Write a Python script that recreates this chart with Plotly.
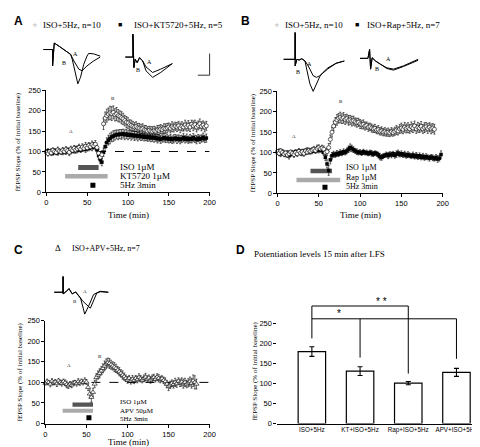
import numpy as np
import plotly.graph_objects as go

W, H = 480, 447
SERIF = "Liberation Serif, Times New Roman, serif"
SANS = "Liberation Sans, Arial, sans-serif"

# ---------------- time-course data (2-min bins) ----------------
a_iso_vals = [98, 95, 100, 97, 103, 100, 98, 104, 101, 99, 103,
              100, 105, 102, 98, 106, 103, 108, 104, 107, 110,
              106, 111, 108, 113, 109, 115, 112, 117, 114, 118,
              110, 96, 86, 92,
              168, 182, 188, 192, 195, 193, 196, 190, 192, 188, 186, 183, 180, 176, 172,
              170, 166, 164, 162, 160, 161, 158, 157, 155, 156, 153, 152, 150, 152, 150, 149,
              151, 150, 153, 152, 155, 154, 157, 156, 158, 160, 157, 161, 159, 162, 160,
              163, 158, 162, 160, 165, 161, 164, 160, 167, 163, 166, 160, 164, 168, 162, 165, 160, 163]
a_iso_err = [5, 6, 5, 7, 6, 5, 6, 7, 5, 6, 7, 6, 7, 6, 8, 7, 6, 7, 8, 7, 8,
             7, 8, 7, 9, 8, 7, 8, 9, 8, 9,
             8, 10, 12, 10,
             14, 15, 16, 15, 16, 17, 16, 15, 16, 15, 14, 15, 14, 13, 14,
             13, 12, 13, 12, 11, 12, 11, 12, 11, 12, 11, 12, 11, 10, 11, 12,
             11, 10, 11, 12, 11, 10, 11, 12, 11, 10, 11, 12, 11, 10, 11,
             11, 12, 11, 10, 12, 11, 12, 11, 10, 12, 11, 12, 11, 12, 11, 10, 12, 11]
a_kt_vals = [100, 102, 98, 101, 96, 103, 99, 97, 102, 100, 98,
             103, 99, 104, 101, 100, 105, 102, 106, 103, 108,
             104, 107, 110, 106, 111, 108, 113, 110, 115, 112,
             104, 90, 80, 74,
             98, 112, 122, 128, 132, 136, 138, 140, 142, 141, 143, 142, 144, 141, 143,
             140, 142, 139, 141, 138, 140, 137, 139, 136, 138, 135, 137, 134, 136, 133, 135,
             133, 134, 131, 133, 130, 132, 134, 131, 133, 130, 132, 129, 131, 133, 130,
             132, 129, 131, 134, 130, 133, 129, 132, 130, 134, 131, 129, 133, 130, 132, 135, 131, 133]
a_kt_err = [4, 5, 4, 6, 5, 4, 5, 6, 4, 5, 6, 5, 6, 5, 7, 6, 5, 6, 7, 6, 7,
            6, 7, 6, 8, 7, 6, 7, 8, 7, 8,
            8, 9, 10, 9,
            10, 11, 12, 12, 13, 12, 13, 12, 11, 12, 11, 12, 11, 12, 11,
            11, 10, 11, 10, 11, 10, 11, 10, 9, 10, 9, 10, 9, 10, 9, 10,
            10, 9, 10, 9, 10, 9, 10, 9, 10, 9, 10, 9, 10, 9, 10,
            9, 10, 9, 10, 9, 10, 9, 10, 9, 10, 9, 10, 9, 10, 9, 10, 9, 10]

b_iso_vals = [102, 98, 104, 100, 96, 99, 94, 97, 101, 98, 95,
              100, 97, 103, 99, 102, 98, 104, 101, 105, 103,
              106, 108, 105, 110, 112, 109, 111, 108,
              100, 102, 112, 132, 150, 165,
              174, 180, 184, 186, 183, 185, 181, 183, 179, 180, 177, 178, 175, 173, 174,
              170, 168, 169, 165, 166, 162, 163, 160, 158, 159, 155, 156, 152, 153, 150, 151,
              149, 150, 148, 151, 149, 152, 155, 153, 158, 160, 157, 162, 159, 161, 158,
              163, 160, 165, 158, 162, 160, 164, 158, 161, 163, 159, 162, 158, 160, 157]
b_iso_err = [5, 6, 5, 7, 6, 5, 6, 7, 5, 6, 7, 6, 7, 6, 5, 6, 7, 6, 5, 6, 7,
             6, 7, 6, 8, 7, 6, 7, 8,
             8, 9, 10, 11, 12, 12,
             12, 13, 12, 13, 12, 13, 12, 11, 12, 11, 12, 11, 10, 11, 10,
             11, 10, 11, 10, 9, 10, 9, 10, 9, 10, 9, 10, 9, 10, 9, 10,
             9, 10, 9, 10, 9, 10, 11, 10, 11, 12, 11, 12, 11, 12, 11,
             12, 11, 12, 11, 12, 11, 12, 11, 12, 11, 12, 11, 12, 11, 12]
b_rap_vals = [100, 103, 97, 101, 99, 95, 98, 92, 96, 100, 97,
              102, 99, 104, 100, 98, 103, 100, 105, 102, 104,
              103, 106, 104, 108, 105, 107, 104, 100,
              88, 72, 56, 82, 92, 96,
              94, 98, 96, 100, 98, 102, 100, 104, 108, 112, 110, 107, 104, 102, 100,
              101, 98, 102, 99, 100, 97, 100, 98, 96, 99, 97, 94, 90, 88, 91, 93,
              95, 92, 96, 94, 97, 93, 96, 99, 95, 97, 94, 96, 92, 95, 93,
              91, 94, 90, 93, 89, 92, 88, 91, 87, 90, 88, 86, 89, 87, 85, 88, 84, 86, 95]
b_rap_err = [5, 6, 7, 6, 5, 6, 7, 8, 6, 5, 6, 5, 6, 5, 7, 6, 5, 6, 7, 6, 5,
             6, 5, 6, 7, 6, 5, 6, 7,
             8, 10, 12, 10, 8, 7,
             6, 7, 6, 7, 6, 7, 6, 7, 8, 9, 8, 7, 6, 7, 6,
             6, 5, 6, 5, 6, 5, 6, 7, 6, 5, 6, 7, 8, 7, 6, 5,
             6, 7, 6, 7, 6, 7, 8, 7, 6, 7, 6, 7, 6, 7, 6,
             6, 7, 6, 7, 6, 7, 6, 7, 6, 7, 6, 7, 6, 7, 6, 7, 8, 7, 9]

c_apv_vals = [98, 102, 100, 96, 103, 99, 101, 97, 104, 100, 98,
              102, 99, 95, 92, 96, 94, 98, 100, 97, 102,
              99, 103, 100, 104, 101,
              88, 72, 64, 76, 96,
              112, 118, 122, 128, 134, 140, 145, 148, 146, 143, 140, 137, 134, 130, 126, 122, 118, 114, 110,
              106, 110, 104, 108, 105, 110, 107, 112, 109, 106, 110, 113, 108, 111, 106, 109, 112, 108, 113, 110, 107, 109, 105, 102,
              96, 90, 94, 98, 95, 100, 97, 103, 99, 101, 97, 100, 96, 99, 102, 98, 104, 100, 96]
c_apv_err = [5, 6, 5, 7, 6, 5, 6, 7, 5, 6, 7, 6, 7, 8, 7, 6, 7, 6, 5, 6, 7,
             6, 5, 6, 7, 6,
             8, 10, 12, 10, 9,
             9, 10, 11, 10, 11, 12, 12, 11, 12, 11, 10, 11, 10, 9, 10, 9, 10, 9, 8,
             8, 7, 8, 9, 8, 7, 8, 9, 8, 7, 8, 9, 8, 7, 8, 9, 8, 7, 8, 9, 8, 7, 8, 9,
             9, 10, 9, 8, 9, 10, 9, 8, 9, 10, 11, 10, 9, 10, 11, 12, 14, 16, 12]

BIN = 2  # min per bin
def times(vals):
    return np.arange(len(vals)) * BIN

# ---------------- bar chart data (panel D) ----------------
d_groups = ["ISO+5Hz", "KT+ISO+5Hz", "Rap+ISO+5Hz", "APV+ISO+5Hz"]
d_means = [180, 131, 101, 128]
d_sems = [12, 11, 4, 10]
sig_brackets = [(0, 2, 294), (0, 3, 262)]
sig_drop_bottom = [213, 165, 125, 162]
sig_drop_top = [294, 262, 294, 262]

# ---------------- drug application periods ----------------
a_drugs = [(39, 64, 55, 67, "#555555"), (23, 75, 34, 45, "#aaaaaa")]
b_drugs = [(40, 66, 49, 60, "#555555"), (23, 76, 27, 38, "#aaaaaa")]
c_drugs = [(33, 58, 41, 51, "#555555"), (21, 58, 26, 36, "#aaaaaa")]
a_stim = (57, 17.5)
b_stim = (57.5, 14.5)
c_stim = (53, 14)

# ---------------- example fEPSP traces (ms, mV) ----------------
wA1_pre_t = [0.2, 2.06, 2.06, 2.4, 3.4, 4.74, 5.74]
wA1_pre_v = [0, 0, -0.835, 0.33, 0.165, -0.085, -0.25]
wA1_B_t = [6.06, 6.74, 7.2, 7.74, 8.4, 9.06, 9.4, 10.4, 11.74]
wA1_B_v = [-0.5, -1.25, -1.75, -1.42, -0.75, -0.335, -0.2, -0.22, -0.335]
wA1_A_t = [6.4, 7.4, 8.06, 9.06, 10.4, 11.74]
wA1_A_v = [-0.585, -1.0, -1.085, -0.835, -0.585, -0.385]

wA2_pre_t = [0, 1.54, 1.54, 1.74, 2.0, 2.4, 2.88, 3.54]
wA2_pre_v = [0, 0, 1.165, -0.535, -0.115, -0.285, -0.035, -0.2]
wA2_B_t = [4.2, 5.54, 7.2, 9.54]
wA2_B_v = [-0.7, -1.035, -0.785, -0.335]
wA2_A_t = [4.2, 5.54, 7.2, 9.54]
wA2_A_v = [-0.5, -0.785, -0.615, -0.335]

wB1_pre_t = [0, 2.34, 2.34, 2.34, 2.68, 3.14, 3.68, 4.34]
wB1_pre_v = [0, 0, 1.365, -0.335, 0, -0.035, 0.03, -0.085]
wB1_B_t = [4.68, 5.34, 6.0, 6.68, 7.34, 7.94, 9.0, 10.68, 12.34]
wB1_B_v = [-0.5, -1.25, -1.635, -1.235, -0.885, -0.685, -0.435, -0.2, -0.085]
wB1_A_t = [5.0, 6.0, 6.68, 7.34, 9.0, 10.68, 12.34]
wB1_A_v = [-0.335, -0.835, -0.92, -0.835, -0.485, -0.2, -0.085]

wB2_pre_t = [0, 1.6, 1.94, 2.14, 2.46, 3.14, 4.14]
wB2_pre_v = [0, 0, 0.45, -0.55, 0.03, -0.135, -0.3]
wB2_B_t = [5.46, 6.8, 8.8, 11.8]
wB2_B_v = [-0.52, -0.6, -0.42, -0.1]
wB2_A_t = [5.46, 6.8, 8.8, 11.8]
wB2_A_v = [-0.485, -0.55, -0.385, -0.05]

wC_pre_t = [0, 1.8, 1.8, 1.8, 2.34, 3.0, 3.66, 4.34]
wC_pre_v = [0, 0, 0.8, -0.085, 0.015, 0.185, -0.085, 0.015]
wC_B_t = [5.34, 6.2, 7.0, 8.0, 9.34, 11.0]
wC_B_v = [-0.285, -1.115, -0.7, -0.115, 0.05, 0]
wC_A_t = [5.8, 7.34, 8.66, 9.4, 11.0]
wC_A_v = [-0.45, -0.815, -0.035, 0.025, 0]

# ---------------- layout helpers ----------------
def PX(p):
    return p / W

def PY(p):
    return 1 - p / H

def xdom(l, r):
    return [PX(l), PX(r)]

def ydom(t, b):
    return [PY(b), PY(t)]

fig = go.Figure()

def add_series(t, v, e, xa, ya, sym, fill, size, lw):
    fig.add_trace(go.Scatter(
        x=t, y=v, mode="markers", xaxis=xa, yaxis=ya, cliponaxis=False,
        marker=dict(symbol=sym, size=size, color=fill, line=dict(color="black", width=lw)),
        error_y=dict(type="data", array=e, color="black", thickness=0.6, width=1),
        showlegend=False, hoverinfo="skip"))

add_series(times(a_kt_vals), a_kt_vals, a_kt_err, "x", "y", "square", "black", 3.5, 0)
add_series(times(a_iso_vals), a_iso_vals, a_iso_err, "x", "y", "circle", "white", 4, 0.6)
add_series(times(b_rap_vals), b_rap_vals, b_rap_err, "x2", "y2", "square", "black", 3.5, 0)
add_series(times(b_iso_vals), b_iso_vals, b_iso_err, "x2", "y2", "circle", "white", 4, 0.6)
add_series(times(c_apv_vals), c_apv_vals, c_apv_err, "x3", "y3", "triangle-up", "white", 4.5, 0.6)

for (sx, sy), xa, ya in [(a_stim, "x", "y"), (b_stim, "x2", "y2"), (c_stim, "x3", "y3")]:
    fig.add_trace(go.Scatter(x=[sx], y=[sy], mode="markers", xaxis=xa, yaxis=ya,
                             marker=dict(symbol="square", size=5, color="black"),
                             showlegend=False, hoverinfo="skip"))

fig.add_trace(go.Bar(
    x=d_groups, y=d_means, xaxis="x4", yaxis="y4", width=0.57,
    marker=dict(color="white", line=dict(color="black", width=1.2)),
    error_y=dict(type="data", array=d_sems, color="black", thickness=1.1, width=2.5),
    showlegend=False, hoverinfo="skip"))

D_XR = [-0.714, 3.53]
D_YR = [0, 320]
fig.add_trace(go.Scatter(x=[D_XR[0], D_XR[0]], y=[0, 250], mode="lines", xaxis="x4", yaxis="y4",
                         line=dict(color="black", width=1), cliponaxis=False,
                         showlegend=False, hoverinfo="skip"))
for i in range(len(d_groups)):
    fig.add_trace(go.Scatter(x=[d_groups[i], d_groups[i]], y=[sig_drop_top[i], sig_drop_bottom[i]],
                             mode="lines", xaxis="x4", yaxis="y4", line=dict(color="black", width=1),
                             showlegend=False, hoverinfo="skip"))
for g0, g1, h in sig_brackets:
    fig.add_trace(go.Scatter(x=[d_groups[g0], d_groups[g1]], y=[h, h],
                             mode="lines", xaxis="x4", yaxis="y4", line=dict(color="black", width=1),
                             showlegend=False, hoverinfo="skip"))

def add_wave(pre_t, pre_v, t, v, xa, ya):
    fig.add_trace(go.Scatter(x=pre_t + t, y=pre_v + v, mode="lines", xaxis=xa, yaxis=ya,
                             line=dict(color="black", width=1), cliponaxis=False,
                             showlegend=False, hoverinfo="skip"))

add_wave(wA1_pre_t, wA1_pre_v, wA1_A_t, wA1_A_v, "x5", "y5")
add_wave(wA1_pre_t, wA1_pre_v, wA1_B_t, wA1_B_v, "x5", "y5")
add_wave(wA2_pre_t, wA2_pre_v, wA2_A_t, wA2_A_v, "x6", "y6")
add_wave(wA2_pre_t, wA2_pre_v, wA2_B_t, wA2_B_v, "x6", "y6")
add_wave(wB1_pre_t, wB1_pre_v, wB1_A_t, wB1_A_v, "x7", "y7")
add_wave(wB1_pre_t, wB1_pre_v, wB1_B_t, wB1_B_v, "x7", "y7")
add_wave(wB2_pre_t, wB2_pre_v, wB2_A_t, wB2_A_v, "x8", "y8")
add_wave(wB2_pre_t, wB2_pre_v, wB2_B_t, wB2_B_v, "x8", "y8")
add_wave(wC_pre_t, wC_pre_v, wC_A_t, wC_A_v, "x9", "y9")
add_wave(wC_pre_t, wC_pre_v, wC_B_t, wC_B_v, "x9", "y9")

# ---------------- axes ----------------
tickfont = dict(family=SANS, size=7.5, color="black")
def main_x(dom, anchor):
    return dict(domain=dom, anchor=anchor, range=[0, 200], tickvals=[0, 50, 100, 150, 200],
                showline=True, linecolor="black", linewidth=1, ticks="outside", ticklen=3,
                tickwidth=1, tickcolor="black", showgrid=False, zeroline=False, tickfont=tickfont)
def main_y(dom, anchor):
    return dict(domain=dom, anchor=anchor, range=[0, 250], tickvals=[0, 50, 100, 150, 200, 250],
                showline=True, linecolor="black", linewidth=1, ticks="outside", ticklen=3,
                tickwidth=1, tickcolor="black", showgrid=False, zeroline=False, tickfont=tickfont)

KT, KV = 5.0, 20.0
def inset(l, r, t, b, x0, y0):
    xa = dict(domain=xdom(l, r), range=[(l - x0) / KT, (r - x0) / KT], visible=False)
    ya = dict(domain=ydom(t, b), range=[(y0 - b) / KV, (y0 - t) / KV], visible=False)
    return xa, ya

ins = [inset(30, 95, 28, 76, 33, 38.3),
       inset(112, 170, 18, 72, 117.3, 46),
       inset(274, 345, 17, 85, 278.3, 48.3),
       inset(352, 420, 30, 65, 356, 47.3),
       inset(40, 105, 265, 312, 45, 286)]

layout = dict(
    width=W, height=H, margin=dict(l=0, r=0, t=0, b=0),
    paper_bgcolor="white", plot_bgcolor="white", showlegend=False,
    xaxis=main_x(xdom(37, 203), "y"), yaxis=main_y(ydom(80, 184), "x"),
    xaxis2=main_x(xdom(272, 440), "y2"), yaxis2=main_y(ydom(81, 185), "x2"),
    xaxis3=main_x(xdom(36, 203), "y3"), yaxis3=main_y(ydom(315, 420), "x3"),
    xaxis4=dict(domain=xdom(272, 480), anchor="y4", range=D_XR, type="category",
                showline=True, linecolor="black", linewidth=1, ticks="", showgrid=False,
                zeroline=False, tickangle=0,
                tickfont=dict(family=SANS, size=6.3, color="black")),
    yaxis4=dict(domain=[PY(420), PY(420 - 320 * 102 / 250)], anchor="x4", range=D_YR,
                tickvals=[0, 50, 100, 150, 200, 250], showline=False, ticks="outside",
                ticklen=3, tickwidth=1, tickcolor="black", showgrid=False, zeroline=False,
                tickfont=tickfont),
)
for k, (xa, ya) in enumerate(ins, start=5):
    xa["anchor"] = "y%d" % k
    ya["anchor"] = "x%d" % k
    layout["xaxis%d" % k] = xa
    layout["yaxis%d" % k] = ya
fig.update_layout(**layout)

# ---------------- shapes ----------------
shapes = []
for drugs, xr, yr in [(a_drugs, "x", "y"), (b_drugs, "x2", "y2"), (c_drugs, "x3", "y3")]:
    for x0, x1, y0, y1, col in drugs:
        shapes.append(dict(type="rect", xref=xr, yref=yr, x0=x0, x1=x1, y0=y0, y1=y1,
                           fillcolor=col, line=dict(width=0), layer="below"))
shapes.append(dict(type="line", xref="x", yref="y", x0=62, x1=200, y0=100, y1=100,
                   line=dict(color="black", width=1, dash="dash"), layer="below"))
shapes.append(dict(type="line", xref="x3", yref="y3", x0=56, x1=200, y0=100, y1=100,
                   line=dict(color="black", width=1, dash="dash"), layer="below"))
shapes.append(dict(type="line", xref="paper", yref="paper", x0=PX(191), x1=PX(203),
                   y0=PY(64.5), y1=PY(64.5), line=dict(color="#333", width=1)))
shapes.append(dict(type="line", xref="paper", yref="paper", x0=PX(203), x1=PX(203),
                   y0=PY(64.5), y1=PY(42.5), line=dict(color="#333", width=1)))
fig.update_layout(shapes=shapes)

# ---------------- annotations ----------------
anns = []
def ann(text, x, y, xref="paper", yref="paper", size=9, family=SERIF, xanchor="left",
        yanchor="middle", angle=0, bold=False):
    if bold:
        text = "<b>%s</b>" % text
    anns.append(dict(text=text, x=x, y=y, xref=xref, yref=yref, showarrow=False,
                     xanchor=xanchor, yanchor=yanchor, textangle=angle,
                     font=dict(family=family, size=size, color="black")))

ann("A", PX(2), PY(9), size=12, family=SANS, bold=True)
ann("B", PX(233), PY(9), size=12, family=SANS, bold=True)
ann("C", PX(2), PY(243), size=12, family=SANS, bold=True)
ann("D", PX(228), PY(243), size=12, family=SANS, bold=True)

ann("○", PX(25), PY(13), size=6, family=SANS, xanchor="center")
ann("ISO+5Hz, n=10", PX(32), PY(13), size=9)
ann("■", PX(112), PY(13), size=7, family=SANS, xanchor="center")
ann("ISO+KT5720+5Hz, n=5", PX(124), PY(13), size=9)
ann("○", PX(272), PY(13), size=6, family=SANS, xanchor="center")
ann("ISO+5Hz, n=10", PX(278), PY(13), size=9)
ann("■", PX(353), PY(13), size=7, family=SANS, xanchor="center")
ann("ISO+Rap+5Hz, n=7", PX(361), PY(13), size=9)
ann("Δ", PX(49), PY(241), size=9, xanchor="center")
ann("ISO+APV+5Hz, n=7", PX(61), PY(241), size=8)
ann("Potentiation levels 15 min after LFS", PX(246), PY(247), size=9)

ylab = "fEPSP Slope (% of initial baseline)"
ann(ylab, PX(8), PY(132), size=7, xanchor="center", angle=-90)
ann(ylab, PX(247), PY(133), size=7, xanchor="center", angle=-90)
ann(ylab, PX(10), PY(367), size=7, xanchor="center", angle=-90)
ann(ylab, PX(249), PY(366), size=7, xanchor="center", angle=-90)
ann("Time (min)", PX(120), PY(207), size=9, xanchor="center")
ann("Time (min)", PX(356), PY(207), size=9, xanchor="center")
ann("Time (min)", PX(120), PY(439), size=9, xanchor="center")

ann("ISO 1µM", 88, 62, "x", "y", size=9)
ann("KT5720 1µM", 88, 39, "x", "y", size=9)
ann("5Hz 3min", 88, 17, "x", "y", size=9)
ann("ISO 1µM", 81, 62, "x2", "y2", size=8)
ann("Rap 1µM", 81, 39.5, "x2", "y2", size=8)
ann("5Hz 3min", 81, 17, "x2", "y2", size=8)
ann("ISO 1µM", 89, 52, "x3", "y3", size=7)
ann("APV 50µM", 89, 31, "x3", "y3", size=7)
ann("5Hz 3min", 89, 11, "x3", "y3", size=7)

ann("A", 25, 148, "x", "y", size=5)
ann("B", 77, 229, "x", "y", size=5)
ann("A", 15, 140, "x2", "y2", size=5)
ann("B", 72, 225, "x2", "y2", size=5)
ann("A", 24, 140, "x3", "y3", size=5)
ann("B", 62, 164, "x3", "y3", size=5)

ann("A", 6.74, -0.22, "x5", "y5", size=6, xanchor="center")
ann("B", 4.4, -0.7, "x5", "y5", size=6, xanchor="center")
ann("A", 4.88, -0.235, "x6", "y6", size=6, xanchor="center")
ann("B", 2.54, -0.665, "x6", "y6", size=6, xanchor="center")
ann("A", 5.34, -0.25, "x7", "y7", size=6, xanchor="center")
ann("B", 2.88, -0.67, "x7", "y7", size=6, xanchor="center")
ann("A", 5.8, -0.02, "x8", "y8", size=6, xanchor="center")
ann("B", 3.46, -0.52, "x8", "y8", size=6, xanchor="center")
ann("A", 6.2, 0.05, "x9", "y9", size=5, xanchor="center")
ann("B", 4.2, -0.485, "x9", "y9", size=5, xanchor="center")

ann("*", 0.56, 276, "x4", "y4", size=10, family=SANS, xanchor="center")
ann("* *", 1.45, 305, "x4", "y4", size=10, family=SANS, xanchor="center")

fig.update_layout(annotations=anns)
fig.write_html("out.html")
